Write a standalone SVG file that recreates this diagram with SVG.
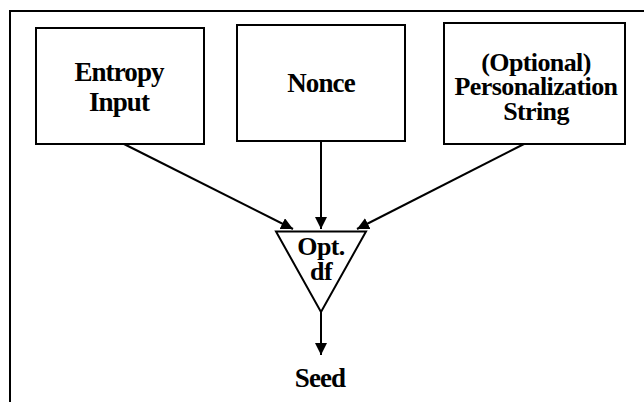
<svg xmlns="http://www.w3.org/2000/svg" width="644" height="402" viewBox="0 0 644 402">
<style>
.box{fill:#fff;stroke:#000;stroke-width:2}
.t{font-family:"Liberation Serif","Times New Roman",serif;font-weight:bold;font-size:27px;letter-spacing:-0.9px;text-anchor:middle;fill:#000}
.s{font-size:26px;letter-spacing:-0.6px}
.c{stroke:#000;stroke-width:2;fill:none}
</style>
<defs>
<marker id="ah" markerUnits="userSpaceOnUse" markerWidth="12" markerHeight="12" viewBox="0 0 12 12" refX="12" refY="6" orient="auto">
<path d="M0,0 L12,6 L0,12 Z" fill="#000"/>
</marker>
</defs>
<rect x="10" y="11" width="660" height="420" fill="#fff" stroke="#000" stroke-width="2"/>
<g id="entropy">
<rect class="box" x="36" y="28" width="168" height="116"/>
<text class="t" x="119" y="81">Entropy</text>
<text class="t" x="119" y="111">Input</text>
</g>
<g id="nonce">
<rect class="box" x="237" y="25" width="168" height="116"/>
<text class="t" x="321" y="92">Nonce</text>
</g>
<g id="personalization">
<rect class="box" x="444" y="23" width="181" height="121"/>
<text class="t s" x="536" y="71">(Optional)</text>
<text class="t s" x="536" y="95">Personalization</text>
<text class="t s" x="536" y="120">String</text>
</g>
<g id="df">
<path class="box" d="M276,231.5 L366,231.5 L321,312 Z"/>
<text class="t s" x="321" y="255">Opt.</text>
<text class="t s" x="321" y="280">df</text>
</g>
<g id="seed">
<text class="t" x="320" y="387">Seed</text>
</g>
<g id="connectors">
<line class="c" x1="124" y1="144" x2="293" y2="229" marker-end="url(#ah)"/>
<line class="c" x1="321" y1="141" x2="321" y2="229" marker-end="url(#ah)"/>
<line class="c" x1="524" y1="144" x2="357" y2="229" marker-end="url(#ah)"/>
<line class="c" x1="321" y1="312" x2="321" y2="355" marker-end="url(#ah)"/>
</g>
</svg>
